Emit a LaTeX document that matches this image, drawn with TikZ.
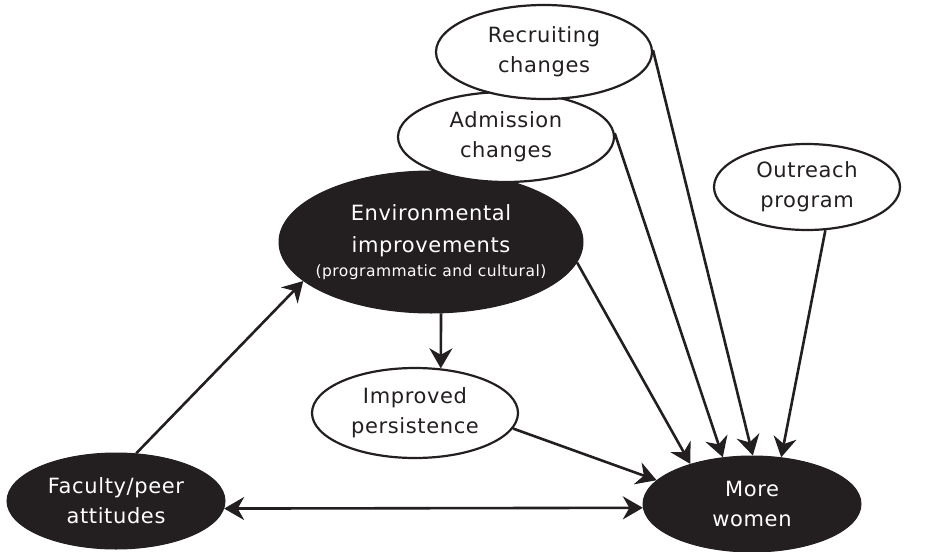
\documentclass[tikz,border=0pt]{standalone}
\usepackage{fontspec}
\setmainfont{DejaVu Sans}[LetterSpace=3]
\usetikzlibrary{shapes.geometric,arrows.meta}
\definecolor{ink}{HTML}{231F20}
\begin{document}
\begin{tikzpicture}[x=1pt,y=-1pt,
  lightnode/.style={ellipse,draw=ink,line width=2.2pt,fill=white,inner sep=0pt,align=center,font=\fontsize{21}{30}\selectfont,text=ink},
  darknode/.style={ellipse,draw=ink,line width=1pt,fill=ink,inner sep=0pt,align=center,font=\fontsize{21}{30}\selectfont,text=white},
  tip/.style={Stealth[length=20pt,width=23pt,inset=6.5pt]},
  arr/.style={line width=2.6pt,draw=ink,-{Stealth[length=20pt,width=23pt,inset=6.5pt]}},
  dbl/.style={line width=2.6pt,draw=ink,{Stealth[length=20pt,width=23pt,inset=6.5pt]}-{Stealth[length=20pt,width=23pt,inset=6.5pt]}},
]
\useasboundingbox[fill=white] (0,0) rectangle (928,551);
\node[darknode,inner sep=-40pt,minimum width=304pt,minimum height=142pt,font=\fontsize{21}{32}\selectfont] (env) at (431,242)
  {Environmental\\improvements\\[-8pt]{\fontsize{15.5}{20}\selectfont (programmatic and cultural)}};
\node[lightnode,minimum width=216pt,minimum height=90pt] (adm) at (506,137) {Admission\\changes};
\node[lightnode,minimum width=216pt,minimum height=94pt] (rec) at (544,52) {Recruiting\\changes};
\node[lightnode,minimum width=186pt,minimum height=86pt] (out) at (807,187) {Outreach\\program};
\node[lightnode,minimum width=206pt,minimum height=90pt] (imp) at (415,413) {Improved\\persistence};
\node[darknode,minimum width=218pt,minimum height=96pt] (fac) at (116,501) {Faculty/peer\\attitudes};
\node[darknode,minimum width=218pt,minimum height=96pt] (mw) at (752,504) {More\\women};

\draw[arr] (fac.67.6) -- (env.197);
\draw[arr] (env.-82.7) -- (imp.60.2);
\draw[arr] (env.-8.4) -- (mw.147.4);
\draw[arr] (imp.-9.5) -- (mw.166.4);
\draw[arr] (adm.2) -- (mw.122);
\draw[arr] (rec.1) -- (mw.89);
\draw[arr] (out.-67) -- (mw.58.7);
\draw[dbl] (fac.-4.2) -- (mw.182.6);
\end{tikzpicture}
\end{document}
